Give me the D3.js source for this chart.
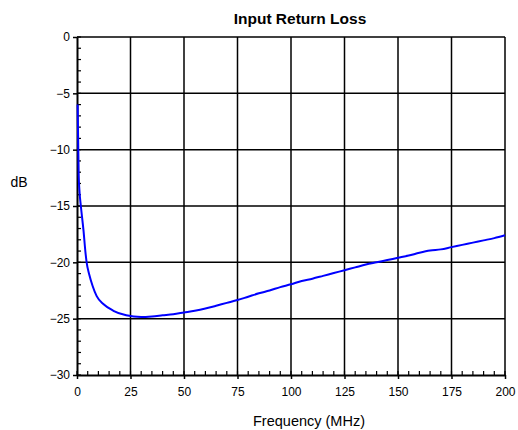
<!DOCTYPE html>
<html>
<head>
<meta charset="utf-8">
<script src="https://cdn.jsdelivr.net/npm/d3@7"></script>
<style>
  body { margin: 0; background: #fff; }
  text { font-family: "Liberation Sans", Arial, sans-serif; fill: #000; }
</style>
</head>
<body>
<div id="plot"></div>
<script>
// Data
const freqMHz = [0.3, 0.45, 0.6, 0.8, 1.2, 1.8, 3, 4, 4.5, 5.75, 7.3, 9.2, 12.3, 17, 23, 30, 35, 40, 45,
  50, 55, 60, 65, 70, 75, 80, 85, 90, 95, 100, 105, 110, 115, 120, 125, 130, 135, 140, 145,
  150, 155, 160, 165, 170, 175, 180, 185, 190, 195, 200];
const returnLossDb = [-6.0, -8.0, -10.0, -12.3, -13.8, -15.0, -17.1, -19.2, -20.0, -21.1, -22.1,
  -23.0, -23.7, -24.3, -24.7, -24.85, -24.8, -24.7, -24.6,
  -24.45, -24.3, -24.1, -23.85, -23.6, -23.35, -23.05, -22.75, -22.5, -22.2,
  -21.95, -21.65, -21.45, -21.2, -20.95, -20.7, -20.45, -20.2, -20.0, -19.8,
  -19.6, -19.4, -19.15, -18.95, -18.85, -18.65, -18.45, -18.25, -18.05, -17.85, -17.6];
const xTicks = [0, 25, 50, 75, 100, 125, 150, 175, 200];
const yTicks = [0, -5, -10, -15, -20, -25, -30];

const W = 518, H = 430;
const margin = { top: 37, right: 13, bottom: 55, left: 77 };
const width = W - margin.left - margin.right;
const height = H - margin.top - margin.bottom;

const svg = d3.select("#plot")
  .append("svg")
  .attr("width", W)
  .attr("height", H);

const g = svg.append("g")
  .attr("transform", `translate(${margin.left},${margin.top})`);

const x = d3.scaleLinear().domain([0, 200]).range([0, width]);
const y = d3.scaleLinear().domain([-30, 0]).range([height, 0]);

// Grid lines
g.selectAll(".vgrid")
  .data(xTicks.filter(d => d > 0))
  .enter().append("line")
  .attr("x1", d => x(d)).attr("x2", d => x(d))
  .attr("y1", 0).attr("y2", height)
  .attr("stroke", "#000").attr("stroke-width", 1.5);

g.selectAll(".hgrid")
  .data(yTicks.filter(d => d > -30))
  .enter().append("line")
  .attr("x1", 0).attr("x2", width)
  .attr("y1", d => y(d)).attr("y2", d => y(d))
  .attr("stroke", "#000").attr("stroke-width", 1.5);

// Minor ticks (inward)
g.selectAll(".xminor")
  .data(d3.range(0, 201, 5))
  .enter().append("line")
  .attr("x1", d => x(d)).attr("x2", d => x(d))
  .attr("y1", height).attr("y2", height - 4)
  .attr("stroke", "#000").attr("stroke-width", 1.2);

g.selectAll(".yminor")
  .data(d3.range(-30, 1, 1))
  .enter().append("line")
  .attr("x1", 0).attr("x2", 4)
  .attr("y1", d => y(d)).attr("y2", d => y(d))
  .attr("stroke", "#000").attr("stroke-width", 1.2);

// Axes
const xAxis = g.append("g")
  .attr("transform", `translate(0,${height})`)
  .call(d3.axisBottom(x).tickValues(xTicks).tickSize(4).tickSizeOuter(0));
const yAxis = g.append("g")
  .call(d3.axisLeft(y).tickValues(yTicks).tickSize(4).tickSizeOuter(0));

[xAxis, yAxis].forEach(a => {
  a.select(".domain").attr("stroke", "#000").attr("stroke-width", 2);
  a.selectAll(".tick line").attr("stroke", "#000").attr("stroke-width", 1.5);
  a.selectAll(".tick text")
    .style("font-family", "'Liberation Sans', Arial, sans-serif")
    .style("font-size", "12px")
    .attr("fill", "#000");
});
xAxis.selectAll(".tick text").attr("dy", "1.15em");
yAxis.selectAll(".tick text").attr("x", -7);

// Curve
const line = d3.line()
  .x((d, i) => x(freqMHz[i]))
  .y(d => y(d))
  .curve(d3.curveMonotoneX);

g.append("path")
  .datum(returnLossDb)
  .attr("fill", "none")
  .attr("stroke", "#0000ff")
  .attr("stroke-width", 2)
  .attr("d", line);

// Labels
svg.append("text")
  .attr("x", 300).attr("y", 24)
  .attr("text-anchor", "middle")
  .style("font-size", "15.5px")
  .style("font-weight", "bold")
  .text("Input Return Loss");

svg.append("text")
  .attr("x", 309).attr("y", 426)
  .attr("text-anchor", "middle")
  .style("font-size", "14.5px")
  .text("Frequency (MHz)");

svg.append("text")
  .attr("x", 19).attr("y", 187)
  .attr("text-anchor", "middle")
  .style("font-size", "14px")
  .text("dB");
</script>
</body>
</html>
